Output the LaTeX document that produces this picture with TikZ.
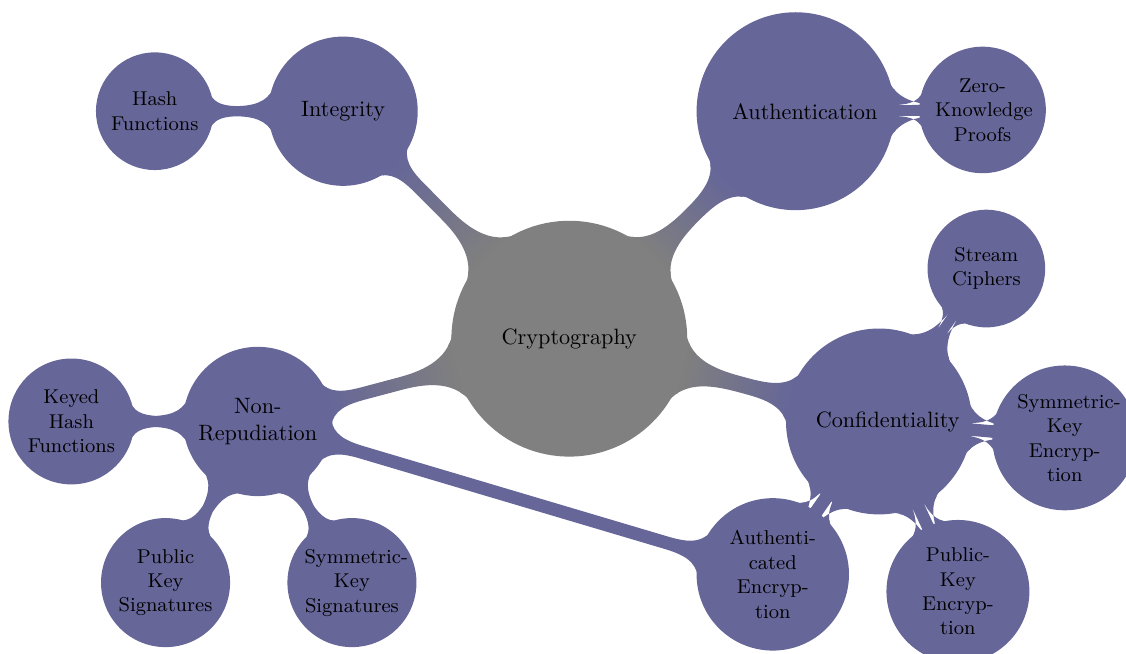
\documentclass[tikz,border=0pt]{standalone}
\usetikzlibrary{mindmap}

\colorlet{racine}{gray}
\colorlet{branche}{blue!20!gray}

\tikzset{
  noeud racine/.style={concept, concept color=racine, minimum size=3.69cm, text width=3cm, inner sep=0pt, font=\normalsize},
  theme/.style={concept, concept color=branche, minimum size=2.32cm, text width=2cm, inner sep=0pt, font=\normalsize},
  feuille/.style={concept, concept color=branche, minimum size=1.82cm, text width=1.5cm, inner sep=0pt, font=\small},
  lien/.style={circle connection bar switch color=from (#1) to (branche)}
}

\begin{document}
\begin{tikzpicture}[mindmap]
  \useasboundingbox (-9.01,-4.98) rectangle (8.81,5.36);

  % Centre
  \node[noeud racine] (crypto) at (0,0) {Cryptography};

  % Branches principales
  \node[theme] (integ) at (-3.58,3.60) {Integrity};
  \node[theme, minimum size=3.09cm] (authn) at (3.58,3.60) {Authentication};
  \node[theme, minimum size=2.9cm] (conf) at (4.90,-1.31) {Confidentiality};
  \node[theme] (nonrep) at (-4.93,-1.31) {Non-Repudiation};

  % Feuilles
  \node[feuille] (hash) at (-6.56,3.60) {Hash Functions};
  \node[feuille, minimum size=1.96cm] (zkp) at (6.54,3.62) {Zero-Knowledge Proofs};
  \node[feuille] (stream) at (6.60,1.11) {Stream Ciphers};
  \node[feuille, minimum size=2.25cm] (symenc) at (7.84,-1.57) {Symmetric-Key Encryption};
  \node[feuille, minimum size=2.22cm] (pubenc) at (6.15,-4.00) {Public-Key Encryption};
  \node[feuille, minimum size=2.37cm] (authenc) at (3.22,-3.73) {Authenti\-cated Encryption};
  \node[feuille, minimum size=1.95cm] (keyed) at (-7.88,-1.31) {Keyed Hash Functions};
  \node[feuille, minimum size=2cm] (pubsig) at (-6.39,-3.86) {Public Key Signatures};
  \node[feuille, minimum size=2cm] (symsig) at (-3.44,-3.86) {Symmetric-Key Signatures};

  % Liens
  \path (crypto) to[lien=racine] (integ);
  \path (crypto) to[lien=racine] (authn);
  \path (crypto) to[lien=racine] (conf);
  \path (crypto) to[lien=racine] (nonrep);
  \path (integ) to[lien=branche] (hash);
  \path (authn) to[lien=branche] (zkp);
  \path (conf) to[lien=branche] (stream);
  \path (conf) to[lien=branche] (symenc);
  \path (conf) to[lien=branche] (pubenc);
  \path (conf) to[lien=branche] (authenc);
  \path (nonrep) to[lien=branche] (keyed);
  \path (nonrep) to[lien=branche] (pubsig);
  \path (nonrep) to[lien=branche] (symsig);
  \path (nonrep) to[lien=branche] (authenc);
\end{tikzpicture}
\end{document}
